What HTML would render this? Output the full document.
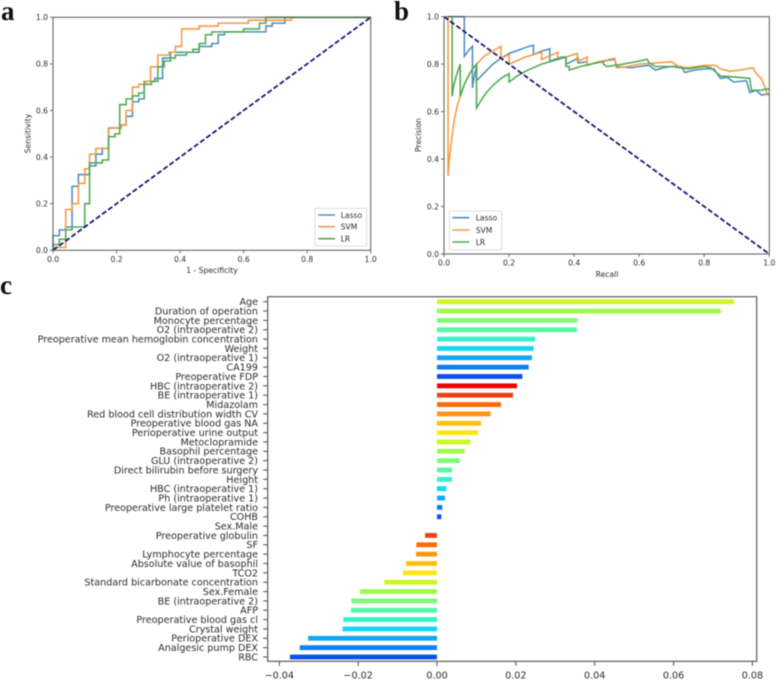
<!DOCTYPE html>
<html lang="en">
<head>
<meta charset="utf-8">
<title>Model performance and feature importance</title>
<style>
html,body{margin:0;padding:0;background:#fff}
#figure{display:block;filter:blur(.45px)}
text{font-family:"DejaVu Sans","Liberation Sans",sans-serif;fill:#2c2c2c}
.panel-letter{font-family:"Liberation Serif",serif;font-weight:bold;font-size:27px;fill:#111}
</style>
</head>
<body>
<svg id="figure" width="778" height="683" viewBox="0 0 778 683" xmlns="http://www.w3.org/2000/svg">
<rect width="778" height="683" fill="#fff"/>
<text class="panel-letter" x="1" y="20">a</text>
<text class="panel-letter" x="394" y="20">b</text>
<text class="panel-letter" x="0" y="294">c</text>
<g id="panelA"></g>
<g id="panelB"></g>
<g id="panelC"></g>
</svg>
<script>
// ---------- Data: panel a (ROC curves, step breakpoints) ----------
const unitTicks = ['0.0','0.2','0.4','0.6','0.8','1.0'];
const seriesNames = ['Lasso','SVM','LR'];
const rocLassoFpr = [0,0,0.02,0.04,0.06,0.08,0.115,0.135,0.155,0.175,0.215,0.23,0.25,0.27,0.287,0.32,0.345,0.37,0.46,0.5,0.52,0.54,0.67,0.69,0.73,1];
const rocLassoTpr = [0,0.0625,0.0875,0.1,0.275,0.325,0.3625,0.4125,0.4375,0.525,0.5375,0.575,0.6375,0.65,0.725,0.7375,0.825,0.85,0.875,0.8875,0.925,0.9375,0.9625,0.975,1,1];
const rocSvmFpr = [0,0.04,0.06,0.08,0.1,0.115,0.135,0.175,0.215,0.23,0.25,0.27,0.29,0.307,0.33,0.365,0.385,0.405,0.46,0.52,0.615,0.73,0.75,1];
const rocSvmTpr = [0.0125,0.175,0.2,0.2875,0.35,0.4125,0.4375,0.525,0.5375,0.6,0.7,0.7125,0.725,0.7875,0.8375,0.85,0.875,0.95,0.9625,0.975,0.9875,0.9875,1,1];
const rocLrFpr = [0,0,0.02,0.04,0.06,0.1,0.115,0.155,0.175,0.195,0.21,0.23,0.25,0.27,0.287,0.31,0.33,0.35,0.37,0.385,0.42,0.44,0.46,0.48,0.5,0.6,0.65,0.67,1];
const rocLrTpr = [0,0.025,0.0475,0.0875,0.1,0.2,0.375,0.3875,0.4875,0.5,0.625,0.65,0.6625,0.675,0.7125,0.725,0.7875,0.8125,0.825,0.8375,0.85,0.8625,0.8875,0.925,0.9375,0.95,0.975,1,1];
const chanceX = [0,1];
const rocChanceY = [0,1];
const prChanceY = [1,0];

// ---------- Data: panel b (precision-recall curves) ----------
const prLassoRecall = [0.0125,0.0625,0.0625,0.075,0.0875,0.0875,0.09,0.095,0.1,0.1,0.125,0.15,0.175,0.2,0.225,0.25,0.275,0.275,0.3,0.325,0.325,0.35,0.3625,0.375,0.375,0.39,0.4125,0.4125,0.44,0.44,0.475,0.5,0.525,0.53,0.575,0.6,0.63,0.65,0.675,0.7,0.73,0.74,0.77,0.8,0.83,0.85,0.87,0.89,0.93,0.94,0.96,0.975,1];
const prLassoPrecision = [1,1,0.833,0.857,0.875,0.70,0.725,0.76,0.795,0.73,0.765,0.80,0.825,0.845,0.857,0.87,0.88,0.84,0.855,0.865,0.8125,0.825,0.83,0.83,0.80,0.81,0.825,0.805,0.81,0.795,0.81,0.815,0.82,0.79,0.785,0.79,0.795,0.775,0.785,0.79,0.79,0.765,0.775,0.78,0.78,0.74,0.745,0.725,0.73,0.68,0.69,0.67,0.675];
const prSvmRecall = [0.0125,0.0125,0.015,0.02,0.025,0.0325,0.04,0.05,0.0625,0.075,0.0875,0.1,0.125,0.15,0.175,0.175,0.2,0.2,0.225,0.25,0.275,0.3,0.3,0.325,0.35,0.35,0.375,0.41,0.41,0.44,0.44,0.475,0.5,0.525,0.53,0.565,0.6,0.65,0.7,0.72,0.75,0.8,0.835,0.85,0.88,0.91,0.95,0.96,0.975,0.985,0.995,1];
const prSvmPrecision = [1,0.33,0.38,0.44,0.50,0.57,0.62,0.665,0.715,0.75,0.78,0.80,0.835,0.855,0.875,0.825,0.84,0.80,0.815,0.83,0.84,0.85,0.82,0.835,0.85,0.82,0.83,0.845,0.81,0.83,0.795,0.81,0.817,0.825,0.785,0.79,0.80,0.805,0.81,0.79,0.785,0.795,0.795,0.78,0.77,0.775,0.785,0.76,0.74,0.71,0.67,0.67];
const prLrRecall = [0.0125,0.025,0.025,0.03,0.0375,0.05,0.05,0.0625,0.075,0.0875,0.1,0.1,0.115,0.13,0.15,0.175,0.2,0.2,0.225,0.25,0.275,0.3,0.325,0.35,0.375,0.375,0.385,0.385,0.42,0.45,0.49,0.49,0.5,0.55,0.59,0.625,0.63,0.65,0.7,0.75,0.8,0.82,0.85,0.9,0.94,0.945,0.975,0.99,1];
const prLrPrecision = [1,1,0.665,0.71,0.75,0.80,0.665,0.715,0.75,0.78,0.80,0.615,0.65,0.68,0.71,0.74,0.76,0.725,0.75,0.77,0.785,0.80,0.81,0.82,0.83,0.79,0.79,0.775,0.79,0.80,0.81,0.80,0.79,0.80,0.81,0.82,0.805,0.79,0.79,0.78,0.79,0.785,0.75,0.745,0.74,0.69,0.69,0.695,0.695];

// ---------- Data: panel c (feature importance) ----------
const featureNames = ['Age','Duration of operation','Monocyte percentage','O2 (intraoperative 2)','Preoperative mean hemoglobin concentration','Weight','O2 (intraoperative 1)','CA199','Preoperative FDP','HBC (intraoperative 2)','BE (intraoperative 1)','Midazolam','Red blood cell distribution width CV','Preoperative blood gas NA','Perioperative urine output','Metoclopramide','Basophil percentage','GLU (intraoperative 2)','Direct bilirubin before surgery','Height','HBC (intraoperative 1)','Ph (intraoperative 1)','Preoperative large platelet ratio','COHB','Sex.Male','Preoperative globulin','SF','Lymphocyte percentage','Absolute value of basophil','TCO2','Standard bicarbonate concentration','Sex.Female','BE (intraoperative 2)','AFP','Preoperative blood gas cl','Crystal weight','Perioperative DEX','Analgesic pump DEX','RBC'];
const featureValues = [0.0753,0.0720,0.0356,0.0355,0.0249,0.0245,0.0241,0.02325,0.02165,0.0203,0.0193,0.01623,0.0136,0.01116,0.0104,0.00845,0.00702,0.00575,0.0038,0.0038,0.00237,0.00203,0.00135,0.0011,0,-0.00304,-0.00524,-0.00533,-0.00786,-0.00862,-0.01336,-0.01953,-0.02173,-0.0218,-0.02376,-0.02393,-0.0327,-0.0348,-0.0373];
const importanceTicks = [-0.04,-0.02,0,0.02,0.04,0.06,0.08];
const importanceTickLabels = ['\u22120.04','\u22120.02','0.00','0.02','0.04','0.06','0.08'];
const barPalette = ['#f00000','#ee4018','#ff6a00','#ff9410','#ffbe10','#ffe610','#cdf820','#a0f850','#80f878','#55f8a8','#38f0c8','#10d8f8','#10a8f5','#1080f0','#0a50f0'];

// ---------- Rendering ----------
const NS = 'http://www.w3.org/2000/svg';
const SERIES_COLORS = ['#4d8fc0','#f39a45','#52a852'];
const AXIS = '#5a5a5a';

function shape(parent, tag, props) {
  const el = document.createElementNS(NS, tag);
  for (const k in props) el.setAttribute(k, props[k]);
  parent.appendChild(el);
  return el;
}
function label(parent, str, x, y, size, anchor, rotate) {
  const el = shape(parent, 'text', {x: x, y: y, 'font-size': size, 'text-anchor': anchor});
  if (rotate) el.setAttribute('transform', 'rotate(' + rotate + ' ' + x + ' ' + y + ')');
  el.textContent = str;
  return el;
}
function scale(d0, d1, r0, r1) {
  return function (v) { return r0 + (v - d0) / (d1 - d0) * (r1 - r0); };
}
function stepPath(xs, ys, sx, sy) {
  let d = 'M' + sx(xs[0]).toFixed(2) + ' ' + sy(ys[0]).toFixed(2);
  for (let i = 1; i < xs.length; i++) {
    d += 'H' + sx(xs[i]).toFixed(2) + 'V' + sy(ys[i]).toFixed(2);
  }
  return d;
}
function linePath(xs, ys, sx, sy) {
  return xs.map(function (x, i) {
    return (i ? 'L' : 'M') + sx(x).toFixed(2) + ' ' + sy(ys[i]).toFixed(2);
  }).join('');
}

function drawUnitPanel(root, box, cfg) {
  const sx = scale(0, 1, box.l, box.r);
  const sy = scale(0, 1, box.b, box.t);

  unitTicks.forEach(function (t) {
    const v = parseFloat(t);
    const xt = shape(root, 'line', {x1: sx(v), x2: sx(v), y1: box.b, y2: box.b + 3, stroke: AXIS, 'stroke-width': 0.9});
    
    
    const xl = label(root, t, sx(v), box.b + 11.5, 7.6, 'middle');
    
    
    const yt = shape(root, 'line', {x1: box.l - 3, x2: box.l, y1: sy(v), y2: sy(v), stroke: AXIS, 'stroke-width': 0.9});
    
    
    const yl = label(root, t, box.l - 5, sy(v) + 2.8, 7.6, 'end');
    
    
  });

  cfg.series.forEach(function (s, i) {
    const p = shape(root, 'path', {d: s.d(sx, sy), fill: 'none', stroke: SERIES_COLORS[i], 'stroke-width': 1.55, 'stroke-linejoin': 'miter'});
    
    
  });

  const chance = shape(root, 'path', {d: linePath(chanceX, cfg.chance, sx, sy), fill: 'none', stroke: '#14146e', 'stroke-width': 1.75, 'stroke-dasharray': '5.2 2.4'});
  
  

  const frame = shape(root, 'rect', {x: box.l, y: box.t, width: box.r - box.l, height: box.b - box.t, fill: 'none', stroke: AXIS, 'stroke-width': 1});
  
  

  const xTitle = label(root, cfg.xTitle, cfg.xTitleX, cfg.xTitleY, 7.6, 'middle');
  
  
  const yTitle = label(root, cfg.yTitle, cfg.yTitleX, cfg.yTitleY, 7.6, 'middle', -90);
  
  

  const lg = cfg.legend;
  const legendBox = shape(root, 'rect', {x: lg.x, y: lg.y, width: lg.w, height: lg.h, fill: '#fff', 'fill-opacity': 0.85, stroke: '#d4d4d4', 'stroke-width': 0.8, rx: 1.5});
  
  
  seriesNames.forEach(function (name, i) {
    const y = lg.rows[i];
    const sw = shape(root, 'line', {x1: lg.lineX, x2: lg.lineX + lg.lineW, y1: y, y2: y, stroke: SERIES_COLORS[i], 'stroke-width': 1.55});
    
    
    const tx = label(root, name, lg.textX, y + 2.8, 7.6, 'start');
    
    
  });
}

drawUnitPanel(document.getElementById('panelA'), {l: 53, r: 370.7, t: 17.3, b: 250.3}, {
  series: [
    {d: function (sx, sy) { return stepPath(rocLassoFpr, rocLassoTpr, sx, sy); }},
    {d: function (sx, sy) { return stepPath(rocSvmFpr, rocSvmTpr, sx, sy); }},
    {d: function (sx, sy) { return stepPath(rocLrFpr, rocLrTpr, sx, sy); }}
  ],
  chance: rocChanceY,
  xTitle: '1 - Specificity', xTitleX: 212, xTitleY: 273,
  yTitle: 'Sensitivity', yTitleX: 30.5, yTitleY: 133.5,
  legend: {x: 315, y: 208.3, w: 51.7, h: 37.7, rows: [215, 226.7, 238.7], lineX: 318.3, lineW: 16.7, textX: 340.7}
});

drawUnitPanel(document.getElementById('panelB'), {l: 444, r: 769.3, t: 16.7, b: 254}, {
  series: [
    {d: function (sx, sy) { return linePath(prLassoRecall, prLassoPrecision, sx, sy); }},
    {d: function (sx, sy) { return linePath(prSvmRecall, prSvmPrecision, sx, sy); }},
    {d: function (sx, sy) { return linePath(prLrRecall, prLrPrecision, sx, sy); }}
  ],
  chance: prChanceY,
  xTitle: 'Recall', xTitleX: 607, xTitleY: 277,
  yTitle: 'Precision', yTitleX: 421, yTitleY: 135,
  legend: {x: 449.3, y: 211, w: 52.4, h: 39, rows: [217.7, 230, 242], lineX: 452.3, lineW: 17, textX: 475.7}
});

(function () {
  const root = document.getElementById('panelC');
  const box = {l: 267.7, r: 756.7, t: 296.7, b: 661.3};
  const sx = scale(-0.04, 0.08, 279.3, 752.4);
  const firstY = 301.7, rowStep = 9.35;
  const sy = function (i) { return firstY + i * rowStep; };

  featureNames.forEach(function (name, i) {
    const v = featureValues[i];
    const x0 = Math.min(sx(0), sx(v));
    const bar = shape(root, 'rect', {x: x0, y: sy(i) - 2.4, width: Math.abs(sx(v) - sx(0)), height: 4.8, fill: barPalette[(i + 6) % barPalette.length]});
    
    
    const tick = shape(root, 'line', {x1: box.l - 4.5, x2: box.l, y1: sy(i), y2: sy(i), stroke: AXIS, 'stroke-width': 1.1});
    
    
    const lab = label(root, name, 258, sy(i) + 3.4, 9.6, 'end');
    
    
  });

  importanceTicks.forEach(function (t, i) {
    const tick = shape(root, 'line', {x1: sx(t), x2: sx(t), y1: box.b, y2: box.b + 4.5, stroke: AXIS, 'stroke-width': 1.1});
    
    
    const lab = label(root, importanceTickLabels[i], sx(t), 678.5, 9.6, 'middle');
    
    
  });

  const frame = shape(root, 'rect', {x: box.l, y: box.t, width: box.r - box.l, height: box.b - box.t, fill: 'none', stroke: AXIS, 'stroke-width': 1.2});
  
  
})();
</script>
</body>
</html>
